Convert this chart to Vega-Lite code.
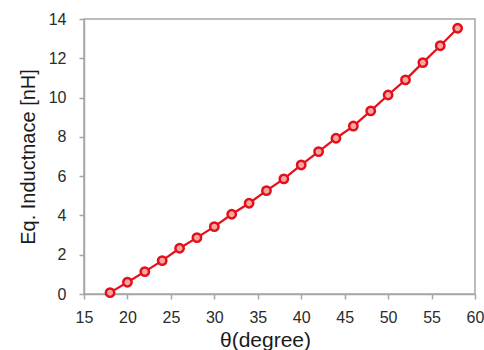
{
  "$schema": "https://vega.github.io/schema/vega-lite/v6.json",
  "autosize": {"type": "none"},
  "width": 391,
  "height": 275,
  "padding": {"left": 84, "top": 19, "right": 9, "bottom": 56},
  "background": "white",
  "config": {
    "view": {"stroke": "#a6a6a6", "strokeWidth": 1.5},
    "axis": {
      "grid": false,
      "domainColor": "#a6a6a6",
      "domainWidth": 1.5,
      "tickColor": "#a6a6a6",
      "tickWidth": 1.5,
      "tickSize": 5,
      "labelFont": "Liberation Sans",
      "labelFontSize": 16,
      "labelColor": "#2b2b2b",
      "titleFont": "Liberation Sans",
      "titleFontWeight": "normal",
      "titleColor": "#1a1a1a"
    }
  },
  "data": {
    "values": [
      {"theta": 18, "L": 0.07},
      {"theta": 20, "L": 0.6},
      {"theta": 22, "L": 1.14},
      {"theta": 24, "L": 1.7},
      {"theta": 26, "L": 2.33},
      {"theta": 28, "L": 2.87},
      {"theta": 30, "L": 3.43},
      {"theta": 32, "L": 4.06},
      {"theta": 34, "L": 4.62},
      {"theta": 36, "L": 5.26},
      {"theta": 38, "L": 5.86},
      {"theta": 40, "L": 6.57},
      {"theta": 42, "L": 7.25},
      {"theta": 44, "L": 7.93},
      {"theta": 46, "L": 8.55},
      {"theta": 48, "L": 9.32},
      {"theta": 50, "L": 10.13},
      {"theta": 52, "L": 10.9},
      {"theta": 54, "L": 11.78},
      {"theta": 56, "L": 12.64},
      {"theta": 58, "L": 13.53}
    ]
  },
  "encoding": {
    "x": {
      "field": "theta",
      "type": "quantitative",
      "scale": {"domain": [15, 60], "nice": false, "zero": false},
      "axis": {"values": [15, 20, 25, 30, 35, 40, 45, 50, 55, 60], "title": "θ(degree)", "titleFontSize": 21, "titleX": 181, "labelPadding": 10, "titlePadding": 4, "labelFlush": false}
    },
    "y": {
      "field": "L",
      "type": "quantitative",
      "scale": {"domain": [0, 14], "nice": false},
      "axis": {"values": [0, 2, 4, 6, 8, 10, 12, 14], "title": "Eq. Inductnace [nH]", "titleFontSize": 20, "labelPadding": 13, "titlePadding": 10, "labelFlush": false}
    }
  },
  "layer": [
    {"mark": {"type": "line", "color": "#e3101a", "strokeWidth": 2.2}},
    {"mark": {"type": "point", "shape": "circle", "filled": false, "stroke": "#e3101a", "fill": "#f7a5a5", "fillOpacity": 1, "strokeWidth": 2.5, "size": 70}}
  ]
}
